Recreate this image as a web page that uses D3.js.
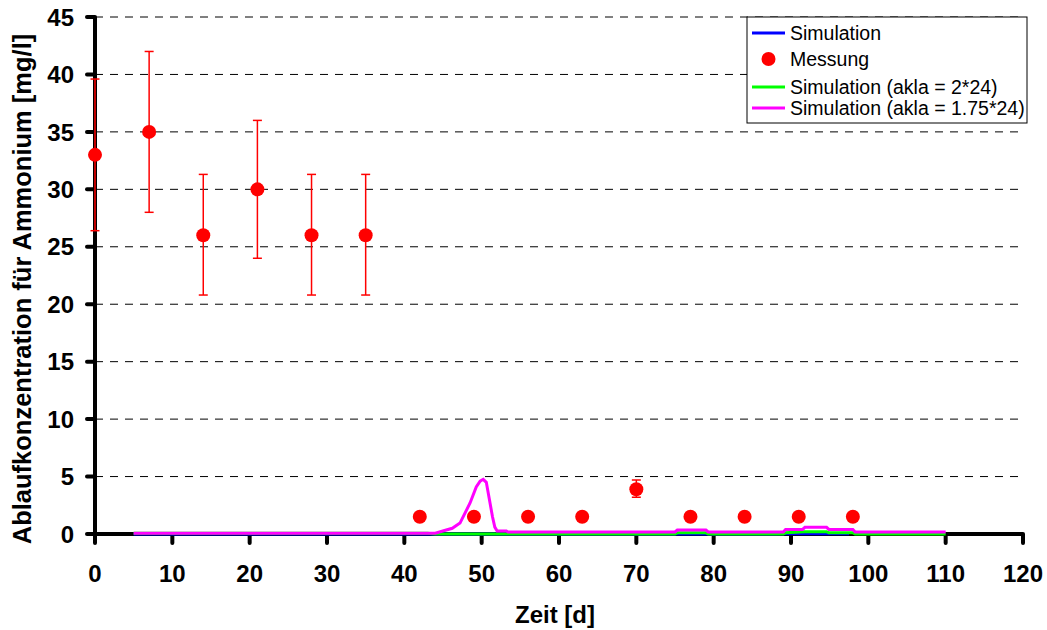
<!DOCTYPE html>
<html>
<head>
<meta charset="utf-8">
<script src="https://cdn.jsdelivr.net/npm/d3@7"></script>
<style>
  body { margin: 0; background: #fff; }
  svg { display: block; font-family: "Liberation Sans", Arial, sans-serif; }
  .tick-label { font-size: 24px; font-weight: bold; fill: #000; }
  .axis-title { font-size: 24px; font-weight: bold; fill: #000; }
  .y-title { font-size: 25.5px; }
  .legend-text { font-size: 19.5px; fill: #000; }
</style>
</head>
<body>
<svg id="chart" width="1047" height="630"></svg>
<script>
// Messung (measured) values
const measDays = [0, 7, 14, 21, 28, 35, 42, 49, 56, 63, 70, 77, 84, 91, 98];
const measValues = [33, 35, 26, 30, 26, 26, 1.5, 1.5, 1.5, 1.5, 3.9, 1.5, 1.5, 1.5, 1.5];
const measLow = [26.4, 28, 20.8, 24, 20.8, 20.8, null, null, null, null, 3.2, null, null, null, null];
const measHigh = [39.6, 42, 31.3, 36, 31.3, 31.3, null, null, null, null, 4.7, null, null, null, null];

// Simulation
const simDays = [5, 88, 89, 97.5];
const simValues = [0.0, 0.0, 0.02, 0.02];

// Simulation (akla = 2*24)
const akla2Days = [5, 43, 44, 75, 75.3, 79, 79.3, 89, 89.3, 91.8, 94.6, 94.9, 98, 98.3, 110];
const akla2Values = [0.06, 0.06, 0.0, 0.0, 0.1, 0.1, 0.0, 0.0, 0.1, 0.2, 0.2, 0.1, 0.1, 0.0, 0.0];

// Simulation (akla = 1.75*24)
const akla175Days = [5, 44, 45.2, 46.2, 47.2, 48.5, 49.3, 49.8, 50.2, 50.6, 51.0, 51.4, 51.7, 52.0, 53.2, 53.4,
  75, 75.3, 79, 79.3, 89, 89.3, 91.5, 91.8, 94.6, 94.9, 98, 98.3, 110];
const akla175Values = [0.06, 0.06, 0.3, 0.5, 0.95, 2.7, 4.1, 4.6, 4.76, 4.5, 3.0, 1.5, 0.6, 0.26, 0.26, 0.18,
  0.18, 0.35, 0.35, 0.18, 0.18, 0.4, 0.4, 0.58, 0.58, 0.4, 0.4, 0.18, 0.18];

const xTicks = d3.range(0, 121, 10);
const yTicks = d3.range(0, 46, 5);

const legendItems = [
  { label: 'Simulation', type: 'line', color: '#0000ff' },
  { label: 'Messung', type: 'dot', color: '#ff0000' },
  { label: 'Simulation (akla = 2*24)', type: 'line', color: '#00ff00' },
  { label: 'Simulation (akla = 1.75*24)', type: 'line', color: '#ff00ff' },
];

const svg = d3.select('#chart');
const plot = { left: 95, right: 1023, top: 17, bottom: 534 };

const x = d3.scaleLinear().domain([0, 120]).range([plot.left, plot.right]);
const y = d3.scaleLinear().domain([0, 45]).range([plot.bottom, plot.top]);

// dashed grid lines
svg.append('g')
  .selectAll('line')
  .data(yTicks.filter((t) => t > 0))
  .join('line')
  .attr('x1', plot.left)
  .attr('x2', plot.right)
  .attr('y1', (d) => y(d))
  .attr('y2', (d) => y(d))
  .attr('stroke', '#000')
  .attr('stroke-width', 1)
  .attr('stroke-dasharray', '8,7');

// axes
const axisG = svg.append('g');
axisG.append('line')
  .attr('x1', x(0)).attr('x2', x(0))
  .attr('y1', y(45)).attr('y2', y(0) + 2)
  .attr('stroke', '#000').attr('stroke-width', 4);
axisG.append('line')
  .attr('x1', x(0) - 2).attr('x2', x(120))
  .attr('y1', y(0)).attr('y2', y(0))
  .attr('stroke', '#000').attr('stroke-width', 4);

axisG.selectAll('.ytick')
  .data(yTicks)
  .join('line')
  .attr('class', 'ytick')
  .attr('x1', x(0) - 8).attr('x2', x(0))
  .attr('y1', (d) => y(d)).attr('y2', (d) => y(d))
  .attr('stroke', '#000').attr('stroke-width', 4).attr('stroke-linecap', 'round');

axisG.selectAll('.xtick')
  .data(xTicks)
  .join('line')
  .attr('class', 'xtick')
  .attr('x1', (d) => x(d)).attr('x2', (d) => x(d))
  .attr('y1', y(0)).attr('y2', y(0) + 9)
  .attr('stroke', '#000').attr('stroke-width', 4).attr('stroke-linecap', 'round');

axisG.selectAll('.ylabel')
  .data(yTicks)
  .join('text')
  .attr('class', 'tick-label')
  .attr('x', 74)
  .attr('y', (d) => y(d))
  .attr('dy', '0.36em')
  .attr('text-anchor', 'end')
  .text((d) => d);

axisG.selectAll('.xlabel')
  .data(xTicks)
  .join('text')
  .attr('class', 'tick-label')
  .attr('x', (d) => x(d))
  .attr('y', 582)
  .attr('text-anchor', 'middle')
  .text((d) => d);

svg.append('text')
  .attr('class', 'axis-title')
  .attr('x', 555)
  .attr('y', 623)
  .attr('text-anchor', 'middle')
  .text('Zeit [d]');

svg.append('text')
  .attr('class', 'axis-title y-title')
  .attr('transform', 'translate(31, 289) rotate(-90)')
  .attr('text-anchor', 'middle')
  .text('Ablaufkonzentration für Ammonium [mg/l]');

// simulation lines (drawn over the axis like the original)
const line = d3.line().x((d) => x(d[0])).y((d) => y(d[1]));
const series = [
  { days: simDays, values: simValues, color: '#0000ff' },
  { days: akla2Days, values: akla2Values, color: '#00ff00' },
  { days: akla175Days, values: akla175Values, color: '#ff00ff' },
];
svg.append('g')
  .selectAll('path')
  .data(series)
  .join('path')
  .attr('d', (s) => line(d3.zip(s.days, s.values)))
  .attr('fill', 'none')
  .attr('stroke', (s) => s.color)
  .attr('stroke-width', 3);

// measurements with error bars
const meas = measDays.map((d, i) => ({ day: d, value: measValues[i], low: measLow[i], high: measHigh[i] }));
const errG = svg.append('g').attr('stroke', '#ff0000').attr('stroke-width', 1.5);
meas.filter((d) => d.low !== null).forEach((d) => {
  errG.append('line')
    .attr('x1', x(d.day)).attr('x2', x(d.day))
    .attr('y1', y(d.low)).attr('y2', y(d.high));
  [d.low, d.high].forEach((v) => {
    errG.append('line')
      .attr('x1', x(d.day) - 4.5).attr('x2', x(d.day) + 4.5)
      .attr('y1', y(v)).attr('y2', y(v));
  });
});
svg.append('g')
  .selectAll('circle')
  .data(meas)
  .join('circle')
  .attr('cx', (d) => x(d.day))
  .attr('cy', (d) => y(d.value))
  .attr('r', 7)
  .attr('fill', '#ff0000');

// legend
const legend = svg.append('g').attr('transform', 'translate(747, 17)');
legend.append('rect')
  .attr('width', 280)
  .attr('height', 106)
  .attr('fill', '#fff')
  .attr('stroke', '#000')
  .attr('stroke-width', 1);
const rowY = [16, 42, 70, 91];
legendItems.forEach((item, i) => {
  const g = legend.append('g').attr('transform', `translate(0, ${rowY[i]})`);
  if (item.type === 'line') {
    g.append('line')
      .attr('x1', 5).attr('x2', 38)
      .attr('stroke', item.color).attr('stroke-width', 3);
  } else {
    g.append('circle').attr('cx', 21.5).attr('r', 7).attr('fill', item.color);
  }
  g.append('text')
    .attr('class', 'legend-text')
    .attr('x', 43)
    .attr('dy', '0.36em')
    .text(item.label);
});
</script>
</body>
</html>
